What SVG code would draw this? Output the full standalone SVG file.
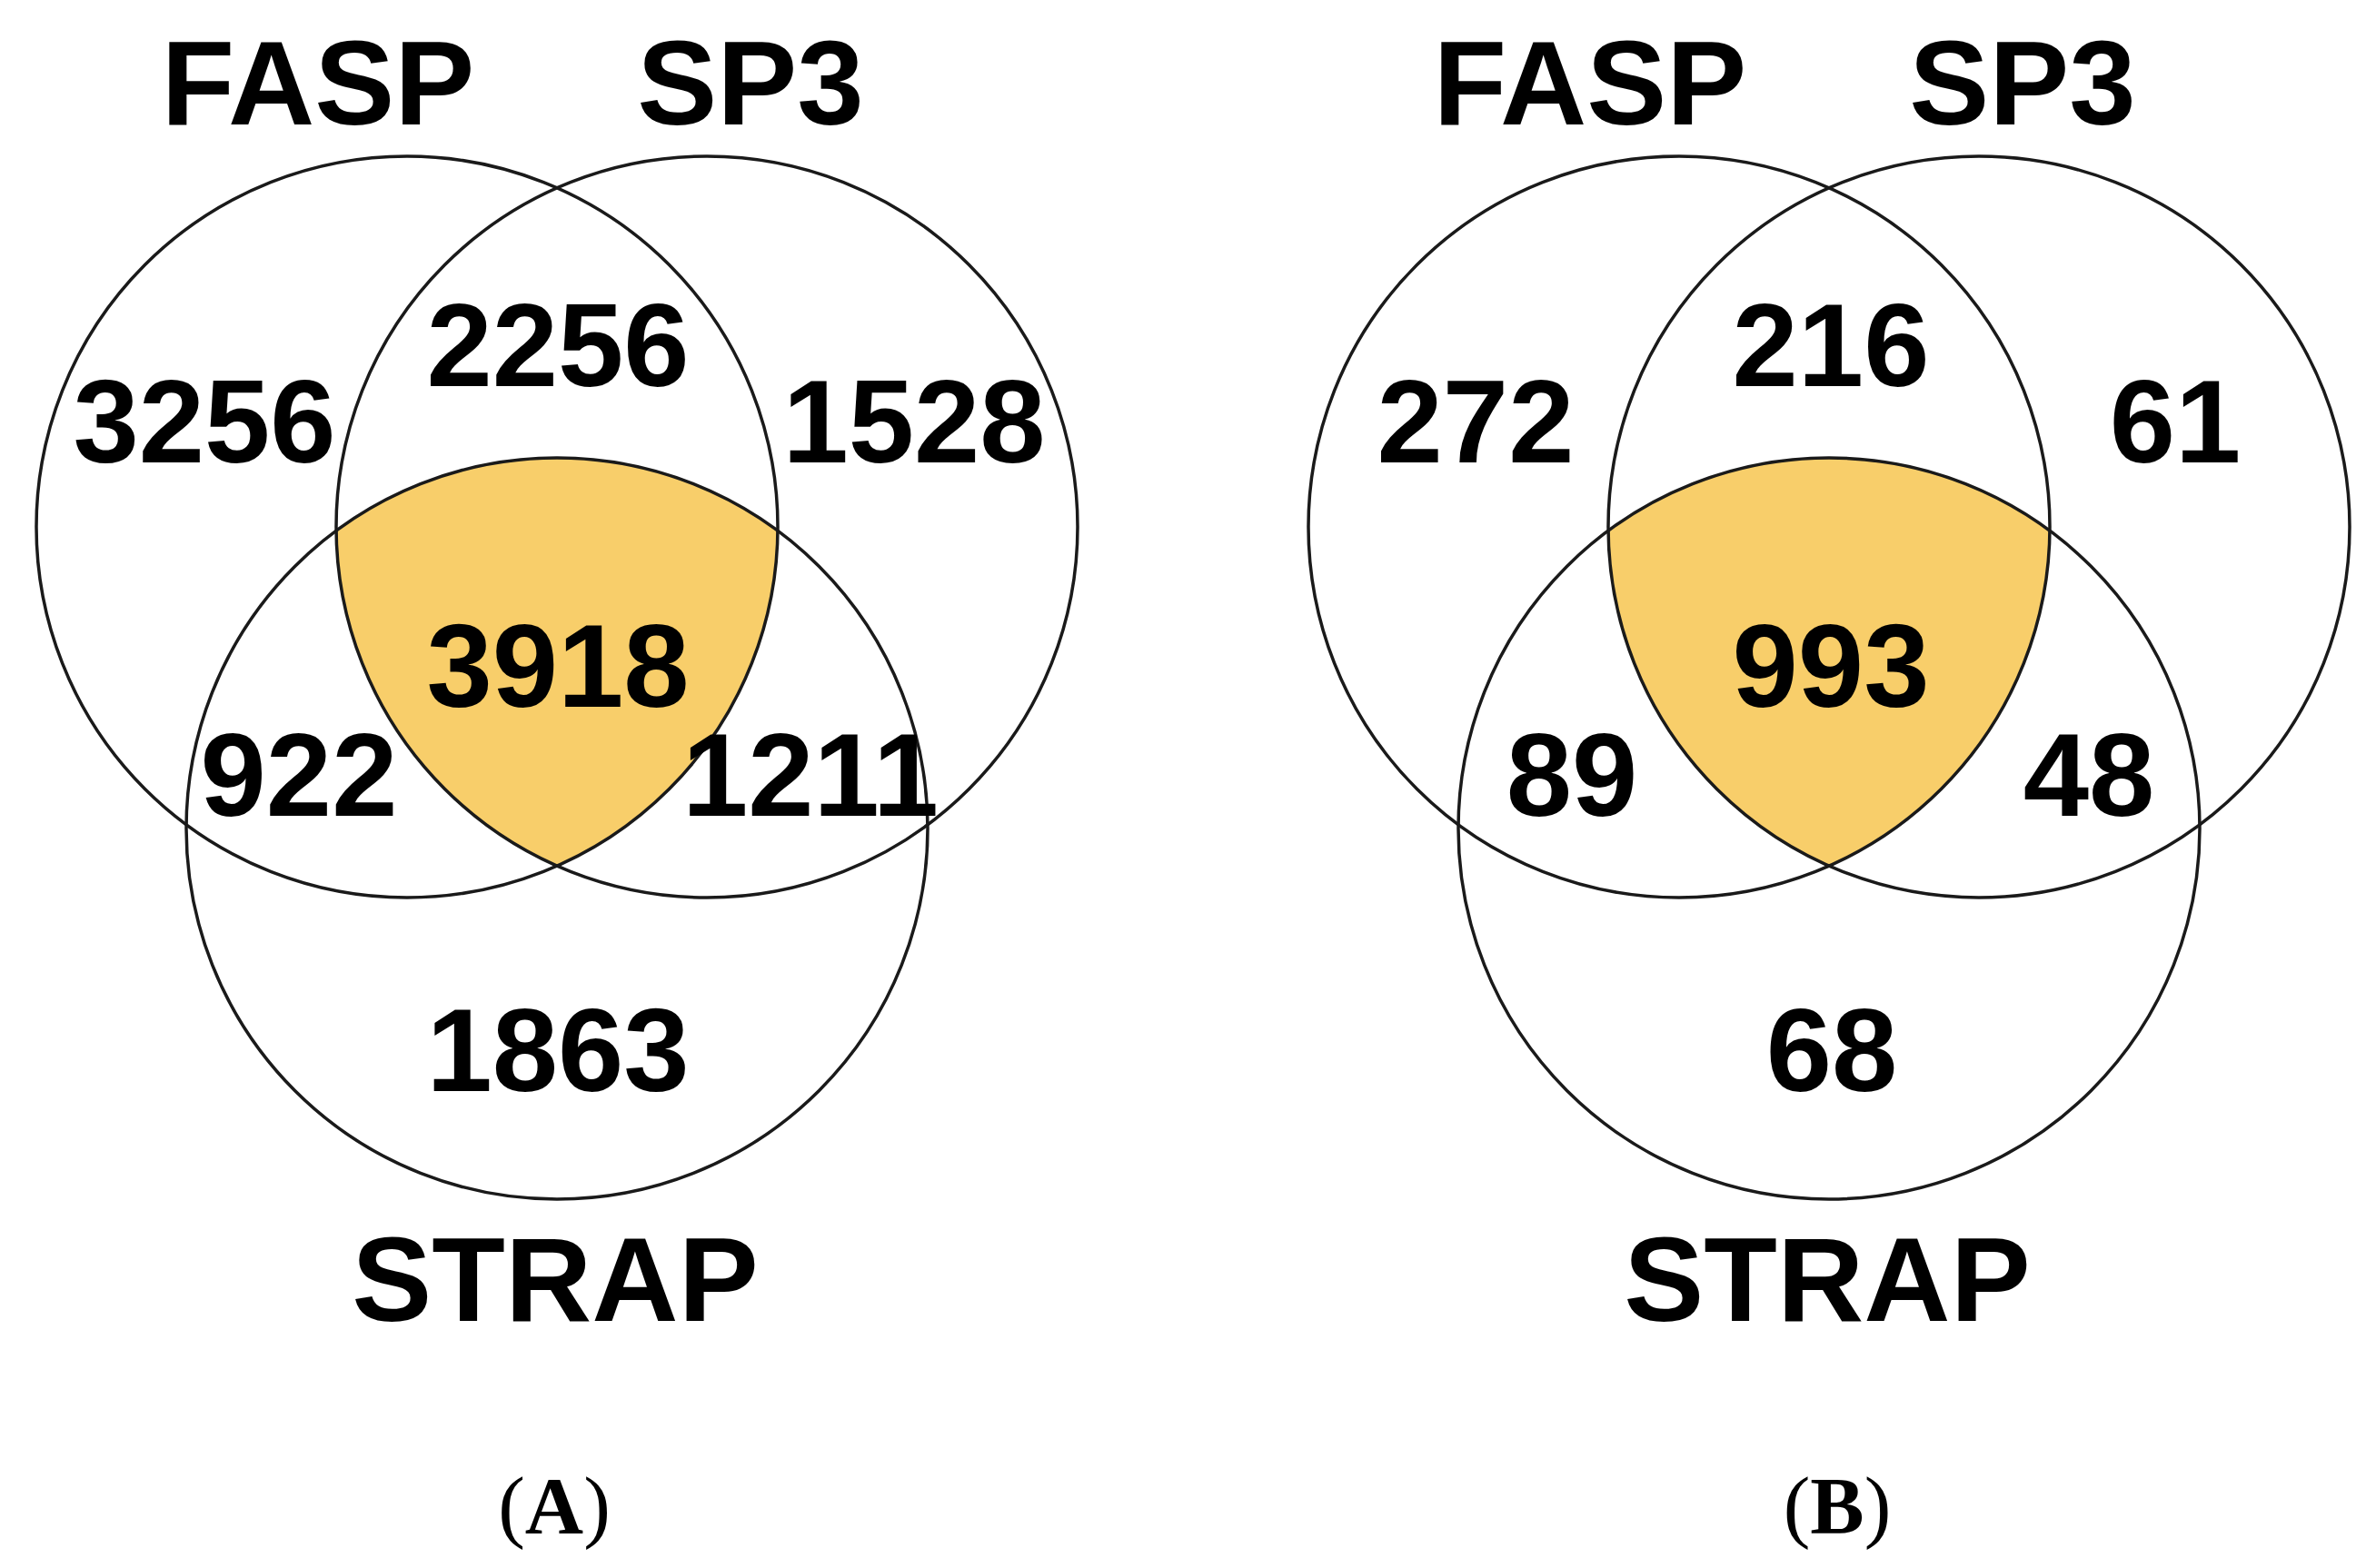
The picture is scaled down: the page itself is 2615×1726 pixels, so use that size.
<svg xmlns="http://www.w3.org/2000/svg" width="2615" height="1726" viewBox="0 0 2615 1726">
<style>
.ring{fill:none;stroke:#1a1a1a;stroke-width:3.5}
.core{fill:#F8CE6A;stroke:none}
.lbl{font-family:"Liberation Sans",Arial,sans-serif;font-weight:bold;font-size:132px;fill:#000;text-anchor:middle}
.num{font-family:"Liberation Sans",Arial,sans-serif;font-weight:bold;font-size:130px;fill:#000;text-anchor:middle}
.cap{font-family:"Liberation Serif","Times New Roman",serif;font-size:89px;fill:#000;text-anchor:middle}
</style>
<rect width="2615" height="1726" fill="#fff"/>
<defs>
<path id="corePath" d="M370,584.2 A408,408 0 0 1 856,584.2 A408,408 0 0 1 613,953.2 A408,408 0 0 1 370,584.2 Z"/>
</defs>
<g id="panelA">
<use href="#corePath" class="core"/>
<g id="A-FASP"><circle class="ring" cx="448" cy="580" r="408"/><text class="lbl" x="350" y="137">FASP</text></g>
<g id="A-SP3"><circle class="ring" cx="778" cy="580" r="408"/><text class="lbl" x="826" y="137">SP3</text></g>
<g id="A-STRAP"><circle class="ring" cx="613" cy="912" r="408"/><text class="lbl" x="611" y="1454">STRAP</text></g>
<g id="A-counts">
<text class="num" x="225" y="509">3256</text>
<text class="num" x="614" y="425">2256</text>
<text class="num" x="1006" y="509">1528</text>
<text class="num" x="614" y="778">3918</text>
<text class="num" x="329" y="898">922</text>
<text class="num" x="892" y="898">1211</text>
<text class="num" x="614" y="1201">1863</text>
</g>
<text class="cap" x="610" y="1687">(<tspan font-weight="bold">A</tspan>)</text>
</g>
<g id="panelB" transform="translate(1400,0)">
<use href="#corePath" class="core"/>
<g id="B-FASP"><circle class="ring" cx="448" cy="580" r="408"/><text class="lbl" x="350" y="137">FASP</text></g>
<g id="B-SP3"><circle class="ring" cx="778" cy="580" r="408"/><text class="lbl" x="826" y="137">SP3</text></g>
<g id="B-STRAP"><circle class="ring" cx="613" cy="912" r="408"/><text class="lbl" x="611" y="1454">STRAP</text></g>
<g id="B-counts">
<text class="num" x="224" y="509">272</text>
<text class="num" x="615" y="425">216</text>
<text class="num" x="994" y="509">61</text>
<text class="num" x="615" y="778">993</text>
<text class="num" x="330" y="898">89</text>
<text class="num" x="899" y="898">48</text>
<text class="num" x="616" y="1201">68</text>
</g>
<text class="cap" x="622" y="1687">(<tspan font-weight="bold">B</tspan>)</text>
</g>
<g id="connectors"/>
</svg>
